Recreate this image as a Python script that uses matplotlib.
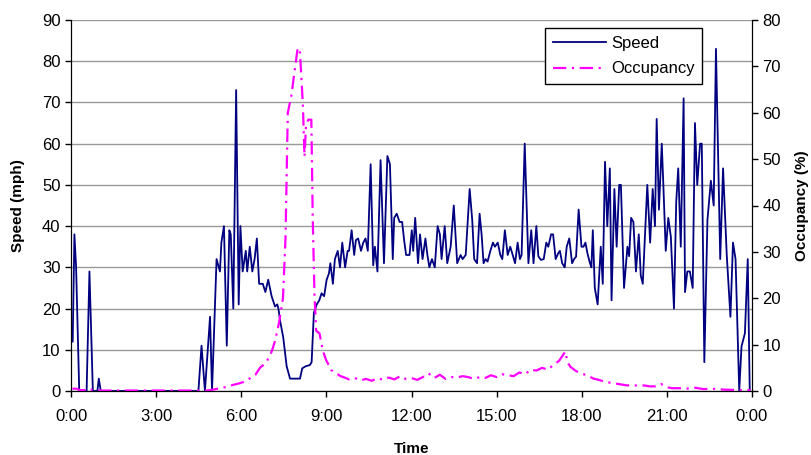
import matplotlib
matplotlib.use("Agg")
import matplotlib.pyplot as plt

plt.rcParams['font.family'] = ['Liberation Sans', 'DejaVu Sans']

# speed (mph): vertices, time in hours
speed_t = [0.06, 0.12, 0.18, 0.29, 0.55, 0.65, 0.77, 0.93, 0.98, 1.05, 4.49, 4.60, 4.72, 4.90, 4.97,
           5.13, 5.25, 5.30, 5.39, 5.49, 5.58, 5.63, 5.72, 5.82, 5.91, 5.97, 6.05, 6.16, 6.21, 6.30,
           6.39, 6.47, 6.55, 6.63, 6.76, 6.85, 6.95, 7.07, 7.19, 7.27, 7.31, 7.37, 7.48, 7.60, 7.72,
           8.07, 8.15, 8.27, 8.42, 8.48, 8.56, 8.66, 8.75, 8.83, 8.92, 9.01, 9.09, 9.14, 9.23, 9.30,
           9.40, 9.48, 9.56, 9.66, 9.75, 9.80, 9.89, 9.98, 10.04, 10.12, 10.22, 10.30, 10.38, 10.46,
           10.56, 10.65, 10.71, 10.80, 10.91, 11.03, 11.15, 11.24, 11.34, 11.39, 11.48, 11.58, 11.67,
           11.74, 11.81, 11.93, 12.01, 12.06, 12.13, 12.23, 12.30, 12.39, 12.49, 12.56, 12.63, 12.72,
           12.82, 12.92, 13.00, 13.06, 13.17, 13.26, 13.38, 13.49, 13.61, 13.73, 13.80, 13.91, 14.05,
           14.14, 14.21, 14.31, 14.40, 14.47, 14.54, 14.61, 14.68, 14.78, 14.87, 14.94, 15.04, 15.13,
           15.20, 15.29, 15.39, 15.48, 15.55, 15.65, 15.74, 15.82, 15.88, 15.99, 16.06, 16.12, 16.22,
           16.30, 16.40, 16.47, 16.56, 16.66, 16.75, 16.82, 16.92, 16.99, 17.08, 17.17, 17.23, 17.31,
           17.40, 17.47, 17.56, 17.66, 17.73, 17.80, 17.89, 17.99, 18.06, 18.13, 18.20, 18.29, 18.34,
           18.39, 18.46, 18.56, 18.67, 18.74, 18.82, 18.90, 18.99, 19.05, 19.15, 19.23, 19.32, 19.38,
           19.49, 19.61, 19.67, 19.74, 19.82, 19.91, 20.01, 20.08, 20.15, 20.31, 20.41, 20.50, 20.58,
           20.64, 20.72, 20.82, 20.87, 20.96, 21.05, 21.14, 21.25, 21.33, 21.40, 21.49, 21.59, 21.64,
           21.72, 21.81, 21.91, 21.99, 22.07, 22.17, 22.23, 22.32, 22.43, 22.55, 22.65, 22.73, 22.88,
           22.98, 23.11, 23.24, 23.33, 23.42, 23.55, 23.63, 23.75, 23.85, 23.92]
speed = [12, 38, 30, 0, 0, 29, 0, 0, 3, 0, 0, 11, 0, 18, 0,
         32, 29, 36, 40, 11, 39, 38, 20, 73, 21, 40, 29, 34, 29, 35,
         29, 32, 37, 26, 26, 24, 27, 23, 20.5, 21, 20, 17, 13, 6, 3,
         3, 5.5, 6, 6.3, 7, 19, 21, 22, 23.7, 23, 27, 28.5, 31, 26, 32,
         34, 30, 36, 30, 34, 34, 39, 33, 36.6, 37, 34, 36, 37, 34,
         55, 30.5, 35, 29, 56, 31, 57, 55, 32, 42, 43, 41, 41,
         36.6, 33, 33, 39, 34, 42, 31, 38, 32, 37, 33, 30, 32,
         30, 40, 38, 32, 40, 31, 35, 45, 31, 33, 32, 33, 49,
         41.5, 32, 31, 43, 38, 31, 32, 31.4, 34, 36, 35, 36, 33,
         32, 39, 33, 35, 33.4, 31, 36, 32, 33, 60, 44.7, 31, 39,
         31, 40, 32.7, 31.8, 32, 36, 35, 38, 38, 32, 33.4, 34, 31,
         30, 35, 37, 31, 32, 32.6, 44, 35, 35, 36, 33.4, 31, 30,
         39, 25, 21, 35, 26, 55.6, 40, 54, 22, 49, 35, 50, 50,
         25, 35, 32.7, 42, 41, 29, 38, 28, 26, 50, 36, 49, 40,
         66, 44, 60, 51, 34, 42, 37.4, 20, 46, 54, 35, 71, 24,
         29, 29, 25, 65, 50, 60, 60, 7, 41.5, 51, 45, 83, 32,
         54, 33, 18, 36, 32, 0, 10.8, 14, 32, 0]

# occupancy (%)
occ_t = [0.05, 0.2, 0.3, 0.5, 0.65, 0.75, 0.9, 1.2, 4.8, 5.0, 5.25, 5.5, 5.7, 5.96, 6.1,
         6.3, 6.5, 6.66, 6.85, 7.0, 7.1, 7.2, 7.34, 7.47, 7.56, 7.64, 7.76, 7.87, 7.99, 8.07,
         8.17, 8.23, 8.28, 8.36, 8.47, 8.52, 8.58, 8.64, 8.76, 8.87, 8.99, 9.17, 9.35, 9.5,
         9.6, 9.8, 10.0, 10.2, 10.4, 10.6, 10.8, 11.0, 11.2, 11.4, 11.6, 11.8, 12.0, 12.2, 12.4,
         12.6, 12.8, 13.0, 13.2, 13.4, 13.6, 13.8, 14.0, 14.2, 14.4, 14.6, 14.8, 15.0, 15.2, 15.4,
         15.6, 15.8, 16.0, 16.2, 16.4, 16.6, 16.8, 17.0, 17.2, 17.3, 17.42, 17.5, 17.6, 17.8, 18.0,
         18.2, 18.4, 18.6, 18.8, 19.0, 19.2, 19.4, 19.6, 19.8, 20.0, 20.2, 20.4, 20.6, 20.8, 21.0,
         21.2, 21.5, 21.8, 22.0, 22.3, 22.6, 23.0, 23.5, 23.95]
occ = [0.5, 0.5, 0.2, 0.2, 0.5, 0.2, 0.1, 0.1, 0.1, 0.3, 0.6, 0.9, 1.3, 1.7, 2.0,
       2.7, 3.5, 5, 6, 7.4, 9, 11, 15, 20, 33, 60, 63.5, 68.5, 74, 73,
       62, 50.5, 57, 58.5, 58.5, 37, 21, 13, 12.4, 8.8, 6.7, 4.5, 3.8, 3.2,
       3.0, 2.5, 2.8, 2.3, 2.6, 2.2, 2.8, 2.4, 2.9, 2.5, 3.2, 2.6, 2.8, 2.4, 3.0,
       3.8, 2.8, 3.5, 2.6, 3.0, 2.9, 3.2, 3.0, 2.6, 3.0, 2.8, 3.4, 3.0, 3.6, 3.4,
       3.2, 4.0, 3.6, 4.6, 4.4, 5.0, 4.6, 5.6, 6.5, 7.4, 8.5, 6.2, 5.2, 4.3, 3.7,
       3.4, 2.7, 2.4, 2.0, 1.8, 1.6, 1.4, 1.2, 1.3, 1.1, 1.2, 1.0, 1.0, 1.5, 0.8,
       0.6, 0.6, 0.5, 0.7, 0.4, 0.5, 0.3, 0.2, 0.2]

x_ticks = [0, 3, 6, 9, 12, 15, 18, 21, 24]
x_labels = ['0:00', '3:00', '6:00', '9:00', '12:00', '15:00', '18:00', '21:00', '0:00']

fig = plt.figure(figsize=(8.11, 4.55), dpi=100)
ax = fig.add_axes([71/811, 1-391/455, (752-71)/811, (391-20)/455])
ax2 = ax.twinx()

l1, = ax.plot(speed_t, speed, color='#000080', lw=1.3, label='Speed', zorder=3)
l2, = ax2.plot(occ_t, occ, color='#FF00FF', lw=1.6, dashes=(6, 2.5, 1, 2.5), label='Occupancy')

ax.set_xlim(0, 24)
ax.set_ylim(0, 90)
ax2.set_ylim(0, 80)
ax.set_xticks(x_ticks)
ax.set_xticklabels(x_labels)
ax.set_yticks(range(0, 91, 10))
ax2.set_yticks(range(0, 81, 10))

ax.yaxis.grid(True, color='#999999', lw=1)
ax.set_axisbelow(True)
for a in (ax, ax2):
    a.spines['top'].set_visible(False)
    a.tick_params(labelsize=12, length=4, width=1)
ax.tick_params(axis='x', pad=9)

ax.set_ylabel('Speed (mph)', fontsize=11, fontweight='bold', labelpad=12)
ax2.set_ylabel('Occupancy (%)', fontsize=11, fontweight='bold', labelpad=10)
ax.set_xlabel('Time', fontsize=11, fontweight='bold', labelpad=13)

leg = ax2.legend(handles=[l1, l2], loc='upper right', bbox_to_anchor=(0.9266, 0.9784),
                 borderaxespad=0, fontsize=12, frameon=True, fancybox=False, framealpha=1,
                 edgecolor='black', handlelength=3.2, handletextpad=0.3,
                 borderpad=0.45, labelspacing=0.65)
leg.get_frame().set_linewidth(1)

fig.savefig('out.png', dpi=100)
